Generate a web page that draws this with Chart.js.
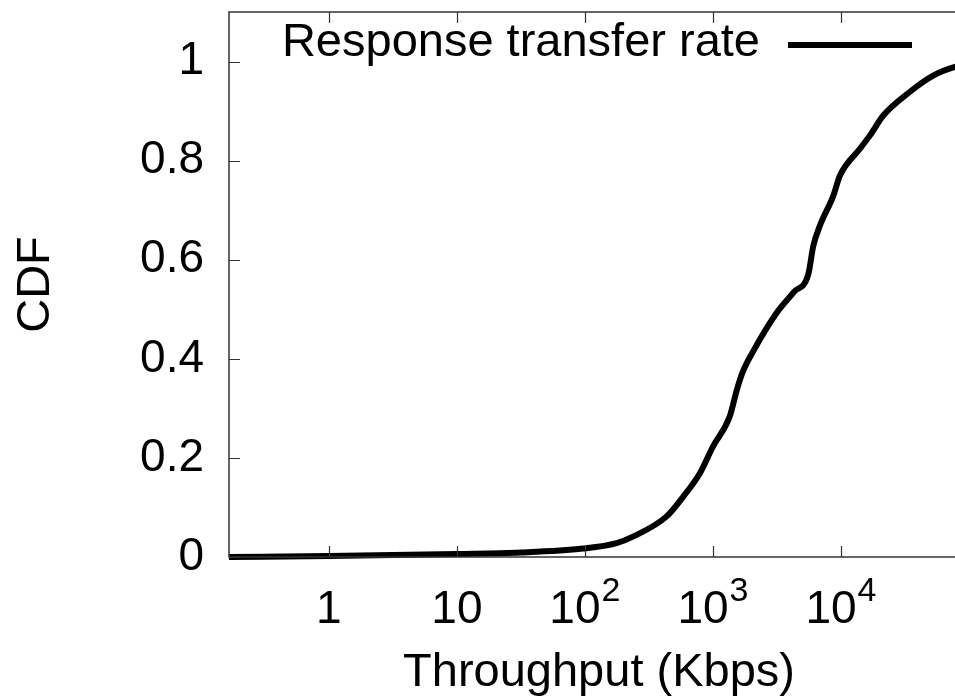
<!DOCTYPE html>
<html><head><meta charset="utf-8">
<script src="https://cdn.jsdelivr.net/npm/chart.js@4/dist/chart.umd.min.js"></script>
<style>html,body{margin:0;padding:0;background:#fff;overflow:hidden}#wrap{width:975px;height:699px}</style>
</head><body><div id="wrap"><canvas id="c" width="975" height="699"></canvas></div>
<script>
const seriesLabel = 'Response transfer rate';
const throughputKbps = [0.166, 1, 10, 31.6, 97, 177, 237, 435, 587, 791, 1000, 1350, 1540, 1700, 2040, 3150, 4300, 5560, 6080, 6850, 8710, 9820, 14060, 16860, 21400, 34600, 52900, 77600, 100000];
const cdfValues      = [0.0,   0.002, 0.006, 0.009, 0.017, 0.028, 0.041, 0.082, 0.122, 0.169, 0.223, 0.283, 0.338, 0.372, 0.413, 0.493, 0.535, 0.571, 0.628, 0.669, 0.729, 0.770, 0.824, 0.851, 0.891, 0.939, 0.972, 0.989, 0.995];
const xTickValues = [1, 10, 100, 1000, 10000];
const xTickBase = ['1', '10', '10', '10', '10'];
const xTickExp = ['', '', '2', '3', '4'];
const yTickValues = [0, 0.2, 0.4, 0.6, 0.8, 1];
const yTickLabels = ['0', '0.2', '0.4', '0.6', '0.8', '1'];
const xTitle = 'Throughput (Kbps)';
const yTitle = 'CDF';

const FONT = '"Liberation Sans", Arial, Helvetica, sans-serif';

const gnuplotPlugin = {
  id: 'gnuplotDecor',
  afterDraw(chart) {
    const ctx = chart.ctx;
    const a = chart.chartArea;
    const xs = chart.scales.x, ys = chart.scales.y;
    ctx.save();
    // frame
    ctx.strokeStyle = '#333';
    ctx.lineWidth = 1.5;
    ctx.strokeRect(a.left, a.top, a.right - a.left, a.bottom - a.top);
    // inward ticks
    ctx.beginPath();
    yTickValues.forEach(v => {
      const y = Math.round(ys.getPixelForValue(v)) + 0.5;
      ctx.moveTo(a.left, y); ctx.lineTo(a.left + 11, y);
      ctx.moveTo(a.right, y); ctx.lineTo(a.right - 11, y);
    });
    xTickValues.forEach(v => {
      const x = Math.round(xs.getPixelForValue(v)) + 0.5;
      ctx.moveTo(x, a.bottom); ctx.lineTo(x, a.bottom - 11);
      ctx.moveTo(x, a.top); ctx.lineTo(x, a.top + 11);
    });
    ctx.lineWidth = 1.2;
    ctx.stroke();
    // x tick labels with superscripts
    ctx.fillStyle = '#000';
    ctx.textBaseline = 'alphabetic';
    ctx.textAlign = 'left';
    xTickValues.forEach((v, i) => {
      const x = xs.getPixelForValue(v);
      ctx.font = '46px ' + FONT;
      const wb = ctx.measureText(xTickBase[i]).width;
      ctx.font = '34px ' + FONT;
      const we = xTickExp[i] ? ctx.measureText(xTickExp[i]).width + 1 : 0;
      const start = x - (wb + we) / 2;
      ctx.font = '46px ' + FONT;
      ctx.fillText(xTickBase[i], start, a.bottom + 66);
      if (xTickExp[i]) {
        ctx.font = '34px ' + FONT;
        ctx.fillText(xTickExp[i], start + wb + 1, a.bottom + 44);
      }
    });
    // axis titles
    ctx.font = '47px ' + FONT;
    ctx.textAlign = 'center';
    ctx.textBaseline = 'middle';
    ctx.fillText(xTitle, (a.left + a.right) / 2, 673);
    ctx.save();
    ctx.translate(36, (a.top + a.bottom) / 2);
    ctx.rotate(-Math.PI / 2);
    ctx.fillText(yTitle, 0, 0);
    ctx.restore();
    // legend (gnuplot style: text then line sample)
    ctx.textAlign = 'right';
    ctx.textBaseline = 'middle';
    ctx.fillText(chart.data.datasets[0].label, 760, 43);
    ctx.beginPath();
    ctx.strokeStyle = '#000';
    ctx.lineWidth = 6;
    ctx.moveTo(788, 45); ctx.lineTo(912, 45);
    ctx.stroke();
    ctx.restore();
  }
};

new Chart(document.getElementById('c'), {
  type: 'line',
  data: {
    datasets: [{
      label: seriesLabel,
      data: throughputKbps.map((x, i) => ({ x: x, y: cdfValues[i] })),
      borderColor: '#000',
      borderWidth: 6,
      pointRadius: 0,
      fill: false,
      cubicInterpolationMode: 'monotone',
      clip: false
    }]
  },
  options: {
    responsive: false,
    devicePixelRatio: 1,
    animation: false,
    layout: { padding: { top: 12, right: 6, left: 0, bottom: 0 } },
    plugins: { legend: { display: false }, tooltip: { enabled: false } },
    scales: {
      x: {
        type: 'logarithmic',
        min: 0.166,
        max: 100000,
        afterBuildTicks: s => { s.ticks = xTickValues.map(v => ({ value: v })); },
        afterFit: s => { s.height = 142; s.paddingLeft = 0; s.paddingRight = 0; },
        ticks: { display: false },
        grid: { display: false, drawTicks: false },
        border: { display: false }
      },
      y: {
        type: 'linear',
        min: 0,
        max: 1.1,
        afterBuildTicks: s => { s.ticks = yTickValues.map(v => ({ value: v })); },
        afterFit: s => { s.width = 229; s.paddingTop = 0; s.paddingBottom = 0; },
        ticks: {
          color: '#000',
          padding: 25,
          font: { size: 46, family: FONT },
          callback: (v) => { const i = yTickValues.indexOf(v); return i >= 0 ? yTickLabels[i] : ''; }
        },
        grid: { display: false, drawTicks: false },
        border: { display: false }
      }
    }
  },
  plugins: [gnuplotPlugin]
});
</script>
</body></html>
